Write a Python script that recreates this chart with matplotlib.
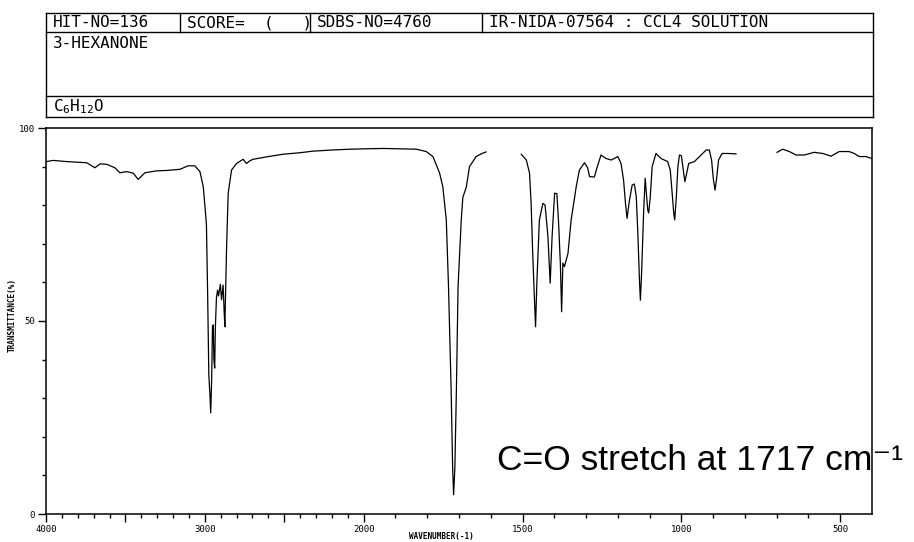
import numpy as np
import matplotlib
matplotlib.use('Agg')
import matplotlib.pyplot as plt
from matplotlib.ticker import FixedLocator

plt.rcParams['mathtext.fontset'] = 'custom'
plt.rcParams['mathtext.rm'] = 'DejaVu Sans Mono'
plt.rcParams['mathtext.default'] = 'rm'

# Spectrum (wavenumber in cm-1, transmittance in %)
# three pieces : the recorder leaves gaps around 1560 and 760 cm-1
wn1 = [4000, 3954, 3870, 3744, 3692, 3660, 3618, 3566, 3535, 3492, 3451, 3420, 3377,
       3304, 3241, 3157, 3105, 3063, 3031, 3010, 3000, 2990, 2982, 2975, 2968, 2963,
       2957, 2952, 2947, 2943, 2938, 2934, 2927, 2920, 2914, 2908, 2902, 2895, 2885,
       2878, 2874, 2868, 2863, 2853, 2832, 2801, 2759, 2738, 2717, 2696, 2600, 2508,
       2400, 2319, 2200, 2088, 2000, 1939, 1880, 1834, 1803, 1782, 1761, 1751, 1740,
       1733, 1725, 1720, 1717, 1713, 1708, 1703, 1693, 1688, 1677, 1667, 1646, 1630, 1615]
tr1 = [91.3, 91.6, 91.3, 91.0, 89.7, 90.7, 90.6, 89.7, 88.4, 88.7, 88.3, 86.7, 88.4,
       88.9, 89.0, 89.3, 90.2, 90.2, 88.7, 84.8, 80.0, 75.0, 56.0, 36.0, 31.0, 26.2,
       35.0, 48.5, 49.0, 40.0, 37.8, 48.0, 56.0, 58.0, 56.5, 58.0, 59.5, 55.5, 59.3,
       52.0, 48.5, 60.0, 69.3, 83.1, 89.1, 90.8, 91.9, 90.8, 91.5, 91.9, 92.6, 93.2,
       93.6, 94.0, 94.3, 94.5, 94.6, 94.7, 94.6, 94.5, 93.9, 92.6, 88.3, 84.8, 76.2,
       58.9, 33.0, 12.0, 5.0, 12.0, 33.0, 58.9, 76.0, 82.0, 84.7, 90.0, 92.6, 93.3, 93.8]

wn2 = [1504, 1488, 1478, 1473, 1468, 1462, 1459, 1455, 1447, 1436, 1429, 1420, 1413,
       1407, 1399, 1392, 1387, 1381, 1377, 1373, 1368, 1357, 1347, 1331, 1321, 1305,
       1295, 1289, 1274, 1266, 1253, 1237, 1221, 1200, 1190, 1182, 1176, 1171, 1164,
       1155, 1148, 1142, 1137, 1132, 1129, 1125, 1119, 1114, 1106, 1103, 1098, 1092,
       1080, 1064, 1043, 1035, 1029, 1024, 1021, 1016, 1011, 1006, 1000, 994, 989,
       984, 977, 959, 938, 922, 912, 905, 899, 894, 889, 883, 872, 854, 828]
tr2 = [93.2, 91.7, 88.3, 80.5, 67.5, 54.6, 48.5, 59.8, 76.2, 80.5, 80.0, 71.8, 59.8,
       71.8, 83.1, 83.0, 76.2, 65.0, 52.4, 65.0, 64.1, 67.5, 76.2, 84.8, 89.1, 91.0,
       89.7, 87.4, 87.3, 89.6, 93.0, 92.1, 91.7, 92.6, 90.8, 86.5, 80.5, 76.6, 81.0,
       85.2, 85.5, 82.2, 72.7, 60.6, 55.4, 63.0, 77.9, 87.0, 78.8, 78.0, 82.0, 90.0,
       93.4, 92.1, 91.3, 89.1, 83.1, 77.9, 76.2, 82.0, 90.0, 93.0, 92.8, 89.1, 86.1,
       88.0, 90.8, 91.3, 93.0, 94.3, 94.3, 91.7, 86.5, 83.9, 87.0, 91.7, 93.4, 93.4, 93.3]

wn3 = [699, 681, 660, 639, 613, 582, 555, 529, 503, 472, 456, 440, 419, 401]
tr3 = [93.7, 94.5, 93.9, 93.0, 93.0, 93.7, 93.4, 92.7, 93.9, 93.9, 93.4, 92.6, 92.6, 92.1]

major_wn = [4000, 3500, 3000, 2500, 2000, 1500, 1000, 500]
major_lab = ['4000', '', '3000', '', '2000', '1500', '1000', '500']
y_major = [0, 50, 100]
y_lab = ['0', '50', '100']

header_row1 = ['HIT-NO=136', 'SCORE=  (   )', 'SDBS-NO=4760', 'IR-NIDA-07564 : CCL4 SOLUTION']
compound = '3-HEXANONE'
formula = r'C$_6$H$_{12}$O'
note = 'C=O stretch at 1717 cm\u207b\u00b9'


# x scale of the recorder : below 2000 cm-1 the chart is stretched twice
def fwd(w):
    w = np.asarray(w, dtype=float)
    return np.where(w < 2000, w, 2000 + (w - 2000) / 2)

def inv(g):
    g = np.asarray(g, dtype=float)
    return np.where(g < 2000, g, 2000 + (g - 2000) * 2)


W, H = 914, 542
fig = plt.figure(figsize=(W / 100, H / 100), dpi=100)

ax = fig.add_axes([46 / W, (H - 514) / H, (872 - 46) / W, (514 - 128) / H])
ax.set_xscale('function', functions=(fwd, inv))
for wn, tr in ((wn1, tr1), (wn2, tr2), (wn3, tr3)):
    ax.plot(wn, tr, color='black', lw=0.9)
ax.set_xlim(4000, 400)
ax.set_ylim(0, 100)

ax.xaxis.set_major_locator(FixedLocator(major_wn))
ax.set_xticklabels(major_lab)
ax.xaxis.set_minor_locator(FixedLocator(np.arange(500, 4000, 100)))
ax.yaxis.set_major_locator(FixedLocator(y_major))
ax.set_yticklabels(y_lab)
ax.yaxis.set_minor_locator(FixedLocator(np.arange(10, 100, 10)))
ax.tick_params(which='major', length=6, width=1.0, direction='out', pad=2,
               labelsize=6.5, labelfontfamily='DejaVu Sans Mono')
ax.tick_params(which='minor', length=3, width=1.0, direction='out')
for s in ax.spines.values():
    s.set_linewidth(1.1)

fig.text(12 / W, 1 - 315 / H, 'TRANSMITTANCE(%)', rotation=90, ha='center', va='center',
         fontsize=5.5, family='DejaVu Sans Mono', fontweight='bold')
fig.text(441 / W, 1 - 537 / H, 'WAVENUMBER(-1)', ha='center', va='center',
         fontsize=5.5, family='DejaVu Sans Mono', fontweight='bold')

# header box, in pixel units
hx = fig.add_axes([0, 0, 1, 1], zorder=-1)
hx.set_xlim(0, W)
hx.set_ylim(H, 0)
hx.axis('off')
box_l, box_r = 46, 873
rows = [13, 32, 96, 117]
for y in rows:
    hx.plot([box_l, box_r], [y, y], color='black', lw=1.0)
hx.plot([box_l, box_l], [rows[0], rows[-1]], color='black', lw=1.0)
hx.plot([box_r, box_r], [rows[0], rows[-1]], color='black', lw=1.0)
cols = [46, 180, 310, 482]
for x in cols[1:]:
    hx.plot([x, x], [rows[0], rows[1]], color='black', lw=1.0)
for x, txt in zip(cols, header_row1):
    hx.text(x + 7, 22.5, txt, ha='left', va='center', fontsize=11.5, family='DejaVu Sans Mono')
hx.text(53, 44, compound, ha='left', va='center', fontsize=11.5, family='DejaVu Sans Mono')
hx.text(53, 107, formula, ha='left', va='center', fontsize=11.5, family='DejaVu Sans Mono')

fig.text(497 / W, 1 - 470 / H, note, ha='left', va='baseline', fontsize=25.5,
         family=['Liberation Sans', 'DejaVu Sans'])

fig.savefig('out.png', dpi=100)
